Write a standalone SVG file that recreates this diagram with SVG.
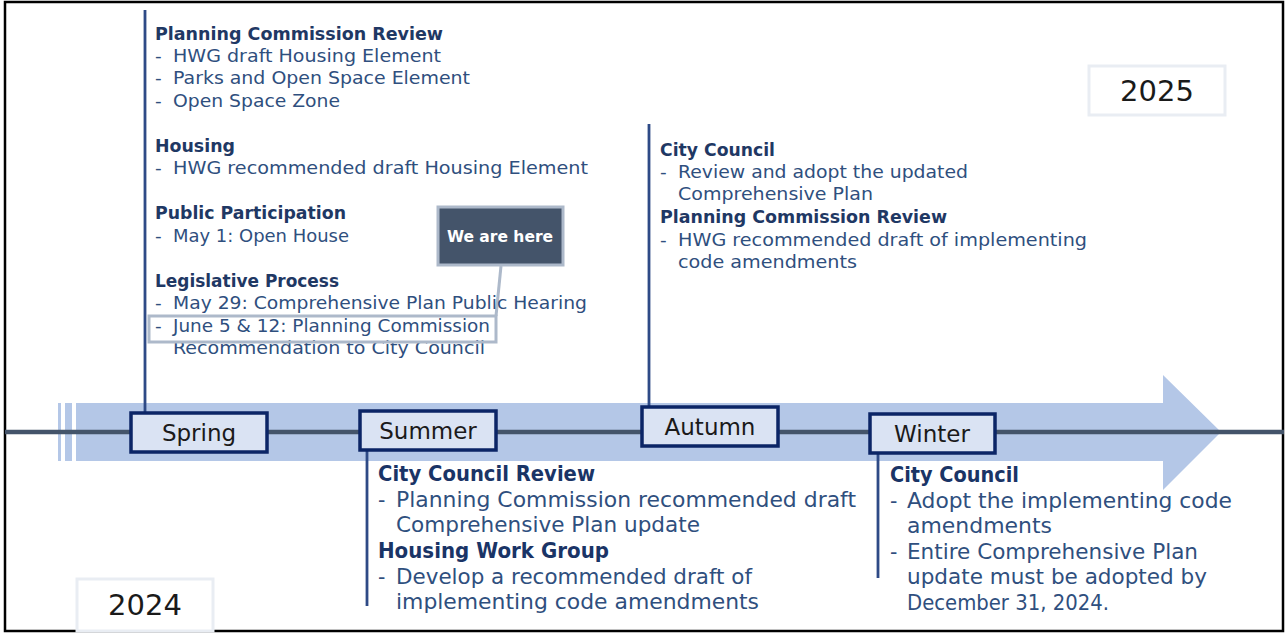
<svg xmlns="http://www.w3.org/2000/svg" width="1287" height="634" viewBox="0 0 1287 634">
<style>
text{font-family:"DejaVu Sans","Open Sans",sans-serif}
.h{font-size:18.5px;font-weight:bold;fill:#1f3864}
.b{font-size:18.5px;fill:#2f4f7e}
.h2{font-size:20.5px;font-weight:bold;fill:#1a3466}
.b2{font-size:20.5px;fill:#2f4f7e}
.season rect{fill:#dae3f3;stroke:#0b2566;stroke-width:3.5}
.season text{font-size:23px;fill:#1a1a1a;text-anchor:middle}
.year rect{fill:#fff;stroke:#e9edf3;stroke-width:3}
.year text{font-size:29px;fill:#1a1a1a;text-anchor:middle}
.conn line{stroke:#2e4a86;stroke-width:2.8}
</style>
<rect x="5" y="2" width="1278" height="629" fill="#fff" stroke="#000" stroke-width="2.5"/>
<g id="timeline-arrow" fill="#b4c7e7">
<rect x="58" y="403" width="3" height="58"/>
<rect x="65" y="403" width="7" height="58"/>
<polygon points="76,403 1163,403 1163,375 1221,432 1163,490 1163,461 76,461"/>
</g>
<line x1="5" y1="432" x2="1284" y2="432" stroke="#44546a" stroke-width="4.5"/>
<g class="conn" id="connectors">
<line x1="145" y1="10" x2="145" y2="412"/>
<line x1="649" y1="124" x2="649" y2="406"/>
<line x1="367" y1="450" x2="367" y2="606"/>
<line x1="878" y1="453" x2="878" y2="578"/>
<line x1="501" y1="266" x2="496" y2="316" style="stroke:#adb9ca;stroke-width:3"/>
</g>
<g id="spring" class="season"><rect x="131" y="413" width="136" height="39"/><text x="199" y="441">Spring</text></g>
<g id="summer" class="season"><rect x="360" y="411" width="136" height="39"/><text x="428" y="439">Summer</text></g>
<g id="autumn" class="season"><rect x="642" y="407" width="136" height="39"/><text x="710" y="435">Autumn</text></g>
<g id="winter" class="season"><rect x="870" y="414" width="125" height="39"/><text x="932" y="442">Winter</text></g>
<g id="year-2025" class="year"><rect x="1089" y="66" width="136" height="49"/><text x="1157" y="101">2025</text></g>
<g id="year-2024" class="year"><rect x="77" y="579" width="136" height="52"/><text x="145" y="615">2024</text></g>
<g id="spring-notes">
<text class="h" x="155" y="40" textLength="288" lengthAdjust="spacingAndGlyphs">Planning Commission Review</text>
<text class="b" x="155" y="62">-</text><text class="b" x="173" y="62" textLength="268" lengthAdjust="spacingAndGlyphs">HWG draft Housing Element</text>
<text class="b" x="155" y="84">-</text><text class="b" x="173" y="84" textLength="297" lengthAdjust="spacingAndGlyphs">Parks and Open Space Element</text>
<text class="b" x="155" y="107">-</text><text class="b" x="173" y="107" textLength="167" lengthAdjust="spacingAndGlyphs">Open Space Zone</text>
<text class="h" x="155" y="152" textLength="80" lengthAdjust="spacingAndGlyphs">Housing</text>
<text class="b" x="155" y="174">-</text><text class="b" x="173" y="174" textLength="415" lengthAdjust="spacingAndGlyphs">HWG recommended draft Housing Element</text>
<text class="h" x="155" y="219" textLength="191" lengthAdjust="spacingAndGlyphs">Public Participation</text>
<text class="b" x="155" y="242">-</text><text class="b" x="173" y="242" textLength="176" lengthAdjust="spacingAndGlyphs">May 1: Open House</text>
<text class="h" x="155" y="287" textLength="184" lengthAdjust="spacingAndGlyphs">Legislative Process</text>
<text class="b" x="155" y="309">-</text><text class="b" x="173" y="309" textLength="414" lengthAdjust="spacingAndGlyphs">May 29: Comprehensive Plan Public Hearing</text>
<text class="b" x="155" y="332">-</text><text class="b" x="173" y="332" textLength="317" lengthAdjust="spacingAndGlyphs">June 5 &amp; 12: Planning Commission</text>
<text class="b" x="173" y="354" textLength="312" lengthAdjust="spacingAndGlyphs">Recommendation to City Council</text>
</g>
<g id="highlight"><rect x="149" y="316" width="347" height="26" fill="none" stroke="#adb9ca" stroke-width="3"/></g>
<g id="we-are-here"><rect x="438" y="207" width="125" height="58" fill="#44546a" stroke="#adb9ca" stroke-width="3"/><text x="500" y="242" font-size="15.5" font-weight="bold" fill="#fff" text-anchor="middle">We are here</text></g>
<g id="autumn-notes">
<text class="h" x="660" y="156" textLength="115" lengthAdjust="spacingAndGlyphs">City Council</text>
<text class="b" x="660" y="178">-</text><text class="b" x="678" y="178" textLength="290" lengthAdjust="spacingAndGlyphs">Review and adopt the updated</text>
<text class="b" x="678" y="200" textLength="195" lengthAdjust="spacingAndGlyphs">Comprehensive Plan</text>
<text class="h" x="660" y="223" textLength="287" lengthAdjust="spacingAndGlyphs">Planning Commission Review</text>
<text class="b" x="660" y="246">-</text><text class="b" x="678" y="246" textLength="409" lengthAdjust="spacingAndGlyphs">HWG recommended draft of implementing</text>
<text class="b" x="678" y="268" textLength="179" lengthAdjust="spacingAndGlyphs">code amendments</text>
</g>
<g id="summer-notes">
<text class="h2" x="378" y="481" textLength="217" lengthAdjust="spacingAndGlyphs">City Council Review</text>
<text class="b2" x="378" y="507">-</text><text class="b2" x="396" y="507" textLength="460" lengthAdjust="spacingAndGlyphs">Planning Commission recommended draft</text>
<text class="b2" x="396" y="532" textLength="304" lengthAdjust="spacingAndGlyphs">Comprehensive Plan update</text>
<text class="h2" x="378" y="558" textLength="231" lengthAdjust="spacingAndGlyphs">Housing Work Group</text>
<text class="b2" x="378" y="584">-</text><text class="b2" x="396" y="584" textLength="356" lengthAdjust="spacingAndGlyphs">Develop a recommended draft of</text>
<text class="b2" x="396" y="609" textLength="363" lengthAdjust="spacingAndGlyphs">implementing code amendments</text>
</g>
<g id="winter-notes">
<text class="h2" x="890" y="482" textLength="129" lengthAdjust="spacingAndGlyphs">City Council</text>
<text class="b2" x="890" y="508">-</text><text class="b2" x="907" y="508" textLength="325" lengthAdjust="spacingAndGlyphs">Adopt the implementing code</text>
<text class="b2" x="907" y="533" textLength="145" lengthAdjust="spacingAndGlyphs">amendments</text>
<text class="b2" x="890" y="559">-</text><text class="b2" x="907" y="559" textLength="291" lengthAdjust="spacingAndGlyphs">Entire Comprehensive Plan</text>
<text class="b2" x="907" y="584" textLength="300" lengthAdjust="spacingAndGlyphs">update must be adopted by</text>
<text class="b2" x="907" y="610" textLength="202" lengthAdjust="spacingAndGlyphs">December 31, 2024.</text>
</g>
</svg>
